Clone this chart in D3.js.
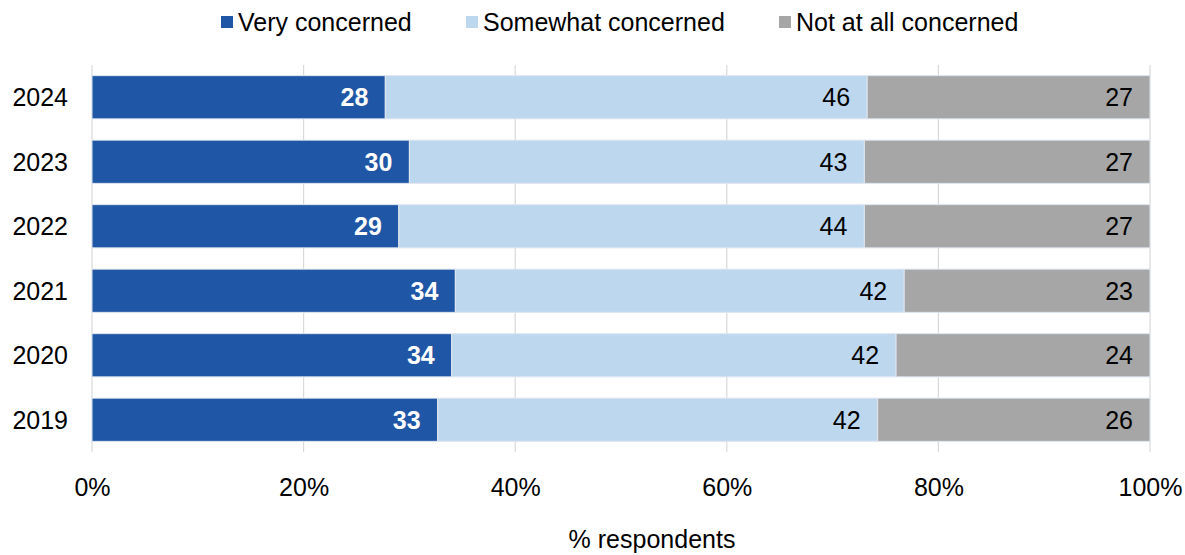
<!DOCTYPE html>
<html>
<head>
<meta charset="utf-8">
<script src="https://cdn.jsdelivr.net/npm/d3@7"></script>
<style>
  html, body { margin: 0; padding: 0; background: #fff; }
  svg { display: block; font-family: "Liberation Sans", Arial, sans-serif; }
</style>
</head>
<body>
<svg id="chart" width="1185" height="555"></svg>
<script>
// Survey years, top to bottom
const years = ["2024", "2023", "2022", "2021", "2020", "2019"];
// Series names
const seriesNames = ["Very concerned", "Somewhat concerned", "Not at all concerned"];
// Percentages per year for each series
const veryConcerned     = [28, 30, 29, 34, 34, 33];
const somewhatConcerned = [46, 43, 44, 42, 42, 42];
const notConcerned      = [27, 27, 27, 23, 24, 26];
// Axis tick values and labels
const tickValues = [0, 0.2, 0.4, 0.6, 0.8, 1];
const tickLabels = ["0%", "20%", "40%", "60%", "80%", "100%"];

const colors = ["#1F56A5", "#BDD7EE", "#A6A6A6"];
const labelColors = ["#ffffff", "#000000", "#000000"];
const labelWeights = ["bold", "normal", "normal"];
const FS = 25;

const rows = years.map((y, i) => {
  const vals = [veryConcerned[i], somewhatConcerned[i], notConcerned[i]];
  const total = d3.sum(vals);
  let acc = 0;
  const segs = vals.map((v, k) => {
    const s = { year: y, k, value: v, x0: acc / total, x1: (acc + v) / total };
    acc += v;
    return s;
  });
  return { year: y, segs };
});

const svg = d3.select("#chart");
const margin = { left: 92, right: 35, top: 65, bottom: 103 };
const W = 1185, H = 555;

const x = d3.scaleLinear().domain([0, 1]).range([margin.left, W - margin.right]);
const y = d3.scaleBand().domain(years).range([margin.top, H - margin.bottom]).paddingInner(0.33).paddingOuter(0.165);

// Vertical gridlines
svg.append("g")
  .selectAll("line")
  .data(tickValues)
  .join("line")
  .attr("x1", d => x(d)).attr("x2", d => x(d))
  .attr("y1", margin.top).attr("y2", H - margin.bottom)
  .attr("stroke", "#d9d9d9").attr("stroke-width", 1.2);

// X axis labels
const xAxis = d3.axisBottom(x).tickValues(tickValues).tickFormat((d, i) => tickLabels[i]).tickSize(0).tickPadding(0);
const gx = svg.append("g").attr("transform", `translate(0,${H - margin.bottom})`).call(xAxis);
gx.select(".domain").remove();
gx.selectAll("text").attr("dy", "0.36em").attr("y", 35).attr("font-size", FS)
  .attr("fill", "#000").attr("font-family", "Liberation Sans, Arial, sans-serif");

// Y axis labels
const yAxis = d3.axisLeft(y).tickSize(0).tickPadding(0);
const gy = svg.append("g").attr("transform", `translate(${margin.left},0)`).call(yAxis);
gy.select(".domain").remove();
gy.selectAll("text").attr("x", -24).attr("dy", "0.36em").attr("font-size", FS)
  .attr("fill", "#000").attr("font-family", "Liberation Sans, Arial, sans-serif");

// Stacked bars
const rowG = svg.append("g").selectAll("g").data(rows).join("g");
rowG.selectAll("rect")
  .data(d => d.segs)
  .join("rect")
  .attr("x", d => x(d.x0))
  .attr("y", d => y(d.year))
  .attr("width", d => x(d.x1) - x(d.x0))
  .attr("height", y.bandwidth())
  .attr("fill", d => colors[d.k])
  .attr("stroke", "#dfe6ef").attr("stroke-width", 1);

// Value labels at the right end of each segment
rowG.selectAll("text")
  .data(d => d.segs)
  .join("text")
  .attr("x", d => x(d.x1) - 17)
  .attr("y", d => y(d.year) + y.bandwidth() / 2)
  .attr("dy", "0.36em")
  .attr("text-anchor", "end")
  .attr("font-size", FS)
  .attr("font-weight", d => labelWeights[d.k])
  .attr("fill", d => labelColors[d.k])
  .text(d => d.value);

// Legend
const legendX = [221, 466, 779];
const legend = svg.append("g").selectAll("g").data(seriesNames).join("g")
  .attr("transform", (d, i) => `translate(${legendX[i]},22)`);
legend.append("rect").attr("x", 0).attr("y", -6).attr("width", 12).attr("height", 12)
  .attr("fill", (d, i) => colors[i]);
legend.append("text").attr("x", 17).attr("dy", "0.36em").attr("font-size", FS).attr("fill", "#000")
  .text(d => d);

// Axis title
svg.append("text")
  .attr("x", 652).attr("y", 548)
  .attr("text-anchor", "middle").attr("font-size", FS).attr("fill", "#000")
  .text("% respondents");
</script>
</body>
</html>
